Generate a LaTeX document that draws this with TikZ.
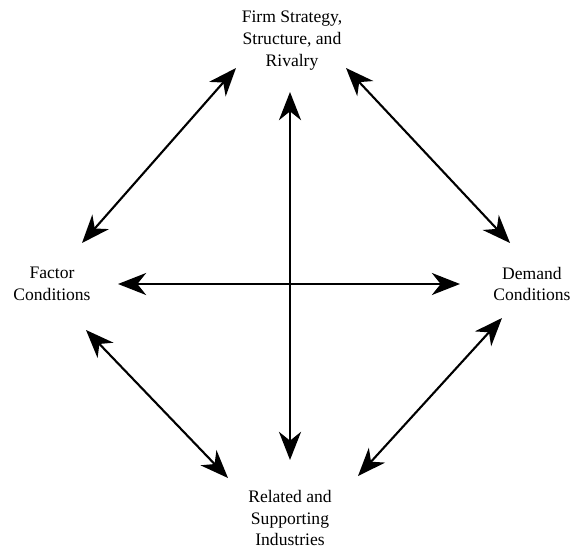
\documentclass[tikz,border=0pt]{standalone}
\usepackage{fontspec}
\setmainfont{Liberation Serif}
\usepackage{tikz}
\usetikzlibrary{arrows.meta}

\begin{document}
\begin{tikzpicture}[x=0.02cm, y=-0.02cm]
    \tikzset{%
        forcetext/.style={align=center, inner sep=0pt, font=\fontsize{10}{12.5}\selectfont},
        duplex/.style={{Stealth[length=16pt, width=12.5pt, inset=5pt]}-{Stealth[length=16pt, width=12.5pt, inset=5pt]}, line width=#1},
        duplex/.default=1.2pt
    }

    \useasboundingbox (0, 0) rectangle (571, 548);

    \node[forcetext] (firm) at (292, 41) {Firm Strategy,\\Structure, and\\Rivalry};
    \node[forcetext] (factor) at (52, 284) {Factor\\Conditions};
    \node[forcetext] (demand) at (532, 284) {Demand\\Conditions};
    \node[forcetext] (related) at (290, 518) {Related and\\Supporting\\Industries};

    % cross in the middle
    \draw[duplex=1.7pt] ([shift={(-2, 51)}]firm.center) -- ([shift={(0, -58)}]related.center);
    \draw[duplex=1.5pt] ([shift={(66, 0)}]factor.center) -- ([shift={(-72, 0)}]demand.center);

    % the four sides
    \draw[duplex] ([shift={(-56, 27)}]firm.center) -- ([shift={(30, -41)}]factor.center);
    \draw[duplex] ([shift={(54, 27)}]firm.center) -- ([shift={(-22, -41)}]demand.center);
    \draw[duplex] ([shift={(34, 46)}]factor.center) -- ([shift={(-62, -40)}]related.center);
    \draw[duplex] ([shift={(-30, 34)}]demand.center) -- ([shift={(68, -42)}]related.center);
\end{tikzpicture}
\end{document}
